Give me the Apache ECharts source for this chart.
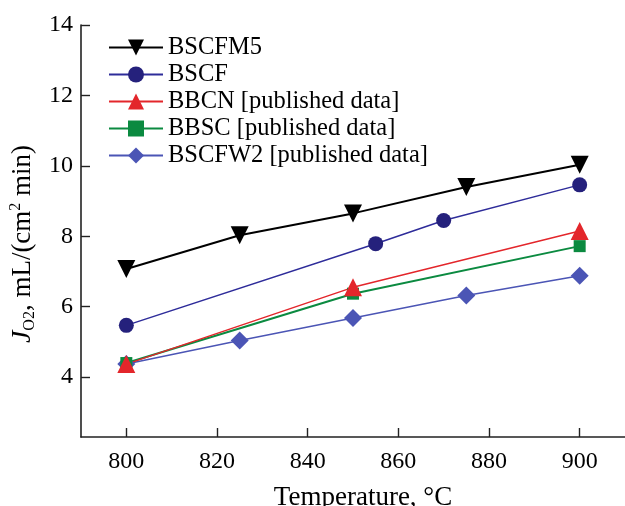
<!DOCTYPE html>
<html>
<head>
<meta charset="utf-8">
<script src="https://cdn.jsdelivr.net/npm/echarts@6/dist/echarts.min.js"></script>
<style>
  html, body { margin: 0; padding: 0; background: #fff; }
  #main { width: 625px; height: 506px; }
</style>
</head>
<body>
<div id="main"></div>
<script>
// temperatures (°C) and oxygen flux values
var tempM5 = [800, 825, 850, 875, 900];
var fluxM5 = [7.07, 8.03, 8.65, 9.40, 10.03];
var tempBSCF = [800, 855, 870, 900];
var fluxBSCF = [5.47, 7.79, 8.45, 9.46];
var tempBBCN = [800, 850, 900];
var fluxBBCN = [4.37, 6.55, 8.15];
var tempBBSC = [800, 850, 900];
var fluxBBSC = [4.40, 6.37, 7.72];
var tempW2 = [800, 825, 850, 875, 900];
var fluxW2 = [4.37, 5.04, 5.68, 6.32, 6.88];

var xTicks = [800, 820, 840, 860, 880, 900];
var yTicks = [4, 6, 8, 10, 12, 14];
var names = ['BSCFM5', 'BSCF', 'BBCN [published data]', 'BBSC [published data]', 'BSCFW2 [published data]'];

function pairs(xs, ys) {
    return xs.map(function (x, i) { return [x, ys[i]]; });
}

var font = 'Liberation Serif';
var myChart = echarts.init(document.getElementById('main'));

myChart.setOption({
    animation: false,
    textStyle: { fontFamily: font },
    grid: { left: 81, right: 0, top: 25, bottom: 69, outerBoundsMode: 'none', containLabel: false },
    legend: {
        orient: 'vertical',
        left: 103,
        top: 30,
        itemWidth: 54,
        itemHeight: 20,
        itemGap: 2,
        data: names,
        textStyle: { fontFamily: font, fontSize: 24.5, color: '#000', lineHeight: 23 }
    },
    xAxis: {
        type: 'value',
        min: 790,
        max: 910,
        name: 'Temperature, °C',
        nameLocation: 'middle',
        nameGap: 47,
        nameTextStyle: { fontFamily: font, fontSize: 27, color: '#000', verticalAlign: 'top', padding: [0, 0, 0, 20] },
        axisLine: { lineStyle: { color: '#222', width: 1.6 } },
        axisTick: { inside: true, length: 9, customValues: xTicks, lineStyle: { color: '#222', width: 1.4 } },
        axisLabel: { customValues: xTicks, margin: 13, fontSize: 24, color: '#000', fontFamily: font },
        splitLine: { show: false }
    },
    yAxis: {
        type: 'value',
        min: 2.3,
        max: 14,
        name: '{i|J}{sub|O2}{n|, mL/(cm}{sup|2}{n| min)}',
        nameLocation: 'middle',
        nameGap: 42,
        nameRotate: 90,
        nameTextStyle: {
            padding: [0, 26, 0, 0],
            rich: {
                i: { fontFamily: font, fontSize: 28, fontStyle: 'italic', color: '#000' },
                n: { fontFamily: font, fontSize: 27, color: '#000' },
                sub: { fontFamily: font, fontSize: 16, color: '#000', verticalAlign: 'bottom', padding: [14, 0, 0, 0] },
                sup: { fontFamily: font, fontSize: 16, color: '#000', verticalAlign: 'top', padding: [0, 0, 12, 0] }
            }
        },
        axisLine: { show: true, lineStyle: { color: '#222', width: 1.6 } },
        axisTick: { show: true, inside: true, length: 9, customValues: yTicks, lineStyle: { color: '#222', width: 1.4 } },
        axisLabel: { customValues: yTicks, margin: 8, fontSize: 24, color: '#000', fontFamily: font },
        splitLine: { show: false }
    },
    series: [{
        name: names[4],
        type: 'line',
        data: pairs(tempW2, fluxW2),
        symbol: 'diamond',
        symbolSize: 18,
        color: '#4b55b5',
        lineStyle: { width: 1.5 }
    }, {
        name: names[3],
        type: 'line',
        data: pairs(tempBBSC, fluxBBSC),
        symbol: 'rect',
        symbolSize: 12,
        color: '#0b8a40',
        lineStyle: { width: 2 }
    }, {
        name: names[2],
        type: 'line',
        data: pairs(tempBBCN, fluxBBCN),
        symbol: 'triangle',
        symbolSize: 18,
        color: '#e3262b',
        lineStyle: { width: 1.5 }
    }, {
        name: names[1],
        type: 'line',
        data: pairs(tempBSCF, fluxBSCF),
        symbol: 'circle',
        symbolSize: 15,
        color: '#25217c',
        lineStyle: { width: 1.5, color: '#2e2c9a' }
    }, {
        name: names[0],
        type: 'line',
        data: pairs(tempM5, fluxM5),
        symbol: 'triangle',
        symbolRotate: 180,
        symbolSize: 18,
        color: '#000',
        lineStyle: { width: 2 }
    }]
});
</script>
</body>
</html>
